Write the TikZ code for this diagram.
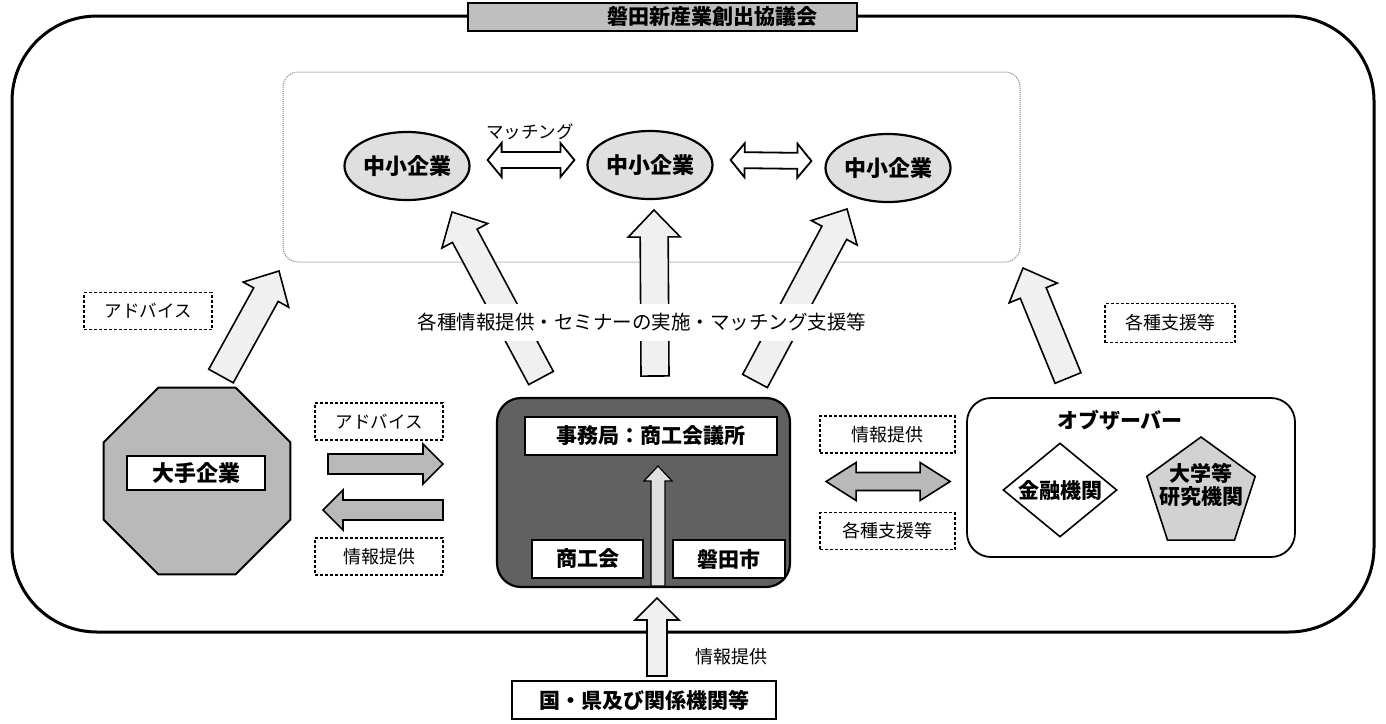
\documentclass[tikz,border=0pt]{standalone}
\usepackage{fontspec}
\setmainfont{Noto Sans CJK JP}
\usetikzlibrary{calc,shapes.geometric}

% block arrow: style, tail, tip, shaft half width, head half width, head length
\newcommand{\blkarrow}[6]{%
  \path (#2) coordinate (bT) (#3) coordinate (bP);
  \path ($(bP)!#6!(bT)$) coordinate (bH);
  \draw[#1] ($(bT)!#4!90:(bP)$) -- ($(bH)!#4!90:(bP)$) -- ($(bH)!#5!90:(bP)$) -- (bP)
    -- ($(bH)!#5!-90:(bP)$) -- ($(bH)!#4!-90:(bP)$) -- ($(bT)!#4!-90:(bP)$) -- cycle;}
% double arrow: style, end A, end B, shaft half, head half, head length
\newcommand{\dblarrow}[6]{%
  \path (#2) coordinate (dA) (#3) coordinate (dB);
  \path ($(dA)!#6!(dB)$) coordinate (dHA) ($(dB)!#6!(dA)$) coordinate (dHB);
  \draw[#1] (dA) -- ($(dHA)!#5!90:(dB)$) -- ($(dHA)!#4!90:(dB)$) -- ($(dHB)!#4!-90:(dA)$)
    -- ($(dHB)!#5!-90:(dA)$) -- (dB) -- ($(dHB)!#5!90:(dA)$) -- ($(dHB)!#4!90:(dA)$)
    -- ($(dHA)!#4!-90:(dB)$) -- ($(dHA)!#5!-90:(dB)$) -- cycle;}

\tikzset{
  bold/.style={font=\fontsize{21}{24}\selectfont\bfseries},
  lbl/.style={font=\fontsize{17.5}{20}\selectfont},
  ell/.style={ellipse, draw, line width=2.2, fill=gray!25, minimum width=125, minimum height=68, inner sep=0, font=\fontsize{22}{24}\selectfont\bfseries},
  dbox/.style={draw, densely dashed, line width=1.4, minimum width=128, minimum height=37, inner sep=0, lbl},
  wbox/.style={draw, line width=1.6, fill=white, inner sep=0, bold},
  lightarr/.style={draw, line width=1.6, fill=gray!12, line join=miter},
  hollowarr/.style={draw, line width=1.8, fill=white},
  grayarr/.style={draw, line width=1.6, fill=gray!55},
}

\begin{document}
\begin{tikzpicture}[x=1pt,y=-1pt]
\useasboundingbox (0,0) rectangle (1386,723);

% outer frame
\draw[line width=3, rounded corners=85] (12,16) rectangle (1374,632);
\node[draw, line width=1.6, fill=gray!50, minimum width=389, minimum height=28, inner sep=0] (title) at (662.5,17) {};
\node[bold, anchor=center] (titletext) at (712,17) {磐田新産業創出協議会};

% inner dotted region
\draw[gray, densely dotted, line width=1, rounded corners=15] (283,72) rectangle (1020,262);

% SMEs
\node[ell] (sme1) at (407,166) {中小企業};
\node[ell] (sme2) at (650,165) {中小企業};
\node[ell] (sme3) at (888,168) {中小企業};
\dblarrow{hollowarr}{$(sme1.east)+(17,-6)$}{$(sme2.west)+(-12,-5)$}{8pt}{17pt}{14pt}
\dblarrow{hollowarr}{$(sme2.east)+(17,-5)$}{$(sme3.west)+(-13,-7)$}{8pt}{17pt}{14pt}
\node[lbl] (match) at (530,132) {マッチング};

% center (secretariat) box
\node[draw, line width=2.2, rounded corners=24, fill=black!62, minimum width=293, minimum height=189, inner sep=0] (ctr) at (643.5,492.5) {};
\node[wbox, minimum width=252, minimum height=38] (jimu) at (651,436) {事務局：商工会議所};
\node[wbox, minimum width=111, minimum height=38] (shokokai) at (587.5,559) {商工会};
\node[wbox, minimum width=112, minimum height=38] (iwata) at (729,559) {磐田市};
\coordinate (inT) at (658,586);
\coordinate (inP) at (658,466);
\blkarrow{draw, line width=1.2, fill=gray!25}{inT}{inP}{7pt}{14pt}{15pt}

% big light arrows to the SME region
\coordinate (a1t) at (541,378); \coordinate (a1p) at (452,212);
\coordinate (a2t) at (655,376); \coordinate (a2p) at (654,210);
\coordinate (a3t) at (755,381); \coordinate (a3p) at (847,209);
\coordinate (a4t) at (221,376); \coordinate (a4p) at (279,271);
\coordinate (a5t) at (1068,378); \coordinate (a5p) at (1023,268);
\blkarrow{lightarr}{a1t}{a1p}{14pt}{26pt}{27pt}
\blkarrow{lightarr}{a2t}{a2p}{14pt}{26pt}{27pt}
\blkarrow{lightarr}{a3t}{a3p}{14pt}{26pt}{27pt}
\blkarrow{lightarr}{a4t}{a4p}{14pt}{26pt}{27pt}
\blkarrow{lightarr}{a5t}{a5p}{14pt}{26pt}{27pt}

\node[fill=white, inner xsep=8, minimum height=37, font=\fontsize{19.5}{22}\selectfont] (mainlbl) at (642,322) {各種情報提供・セミナーの実施・マッチング支援等};

% large enterprise
\node[regular polygon, regular polygon sides=8, minimum size=202, draw, line width=2, fill=gray!55, inner sep=0] (big) at (197,481) {};
\node[wbox, minimum width=138, minimum height=34, font=\fontsize{22}{24}\selectfont\bfseries] (bigtxt) at (196,473) {大手企業};

\node[dbox] (adv1) at (148,311) {アドバイス};
\node[dbox] (adv2) at (379,421.5) {アドバイス};
\node[dbox, font=\fontsize{18}{20}\selectfont] (info1) at (379,556.5) {情報提供};
\coordinate (r1t) at (328,464); \coordinate (r1p) at (443,464);
\coordinate (l1t) at (443,510); \coordinate (l1p) at (323,510);
\blkarrow{grayarr}{r1t}{r1p}{10pt}{20pt}{20pt}
\blkarrow{grayarr}{l1t}{l1p}{10pt}{20pt}{20pt}

% observer side
\node[dbox, minimum width=135, font=\fontsize{18}{20}\selectfont] (info2) at (887.5,434.5) {情報提供};
\node[dbox, minimum width=135, font=\fontsize{18}{20}\selectfont] (sup2) at (887.5,531) {各種支援等};
\dblarrow{grayarr}{$(ctr.east)+(35,-11)$}{$(ctr.east)+(159,-11)$}{9pt}{19pt}{30pt}

\node[draw, line width=1.8, rounded corners=24, minimum width=328, minimum height=159, inner sep=0] (obs) at (1131,477.5) {};
\node[bold] (obstxt) at (1120,420) {オブザーバー};
\node[diamond, draw, line width=1.6, minimum width=114, minimum height=94, inner sep=0] (fin) at (1060,490) {};
\node[bold] (fintxt) at (1060,490) {金融機関};
\node[regular polygon, regular polygon sides=5, draw, line width=1.6, fill=gray!35, minimum size=114, inner sep=0] (univ) at (1201,494) {};
\node[bold, align=center, font=\fontsize{21}{23}\selectfont\bfseries] (univtxt) at (1201,485) {大学等\\研究機関};

\node[dbox, minimum width=130, minimum height=39, font=\fontsize{18}{20}\selectfont] (sup1) at (1170,323) {各種支援等};

% bottom: national / prefectural bodies
\node[draw, line width=1.6, minimum width=264, minimum height=38, inner sep=0, font=\fontsize{21}{24}\selectfont\bfseries] (gov) at (644,700) {国・県及び関係機関等};
\coordinate (bt) at (657,676); \coordinate (bp) at (657,598);
\blkarrow{lightarr}{bt}{bp}{10pt}{22pt}{22pt}
\node[font=\fontsize{18}{20}\selectfont, anchor=west] (info3) at (692,657) {情報提供};
\end{tikzpicture}
\end{document}
